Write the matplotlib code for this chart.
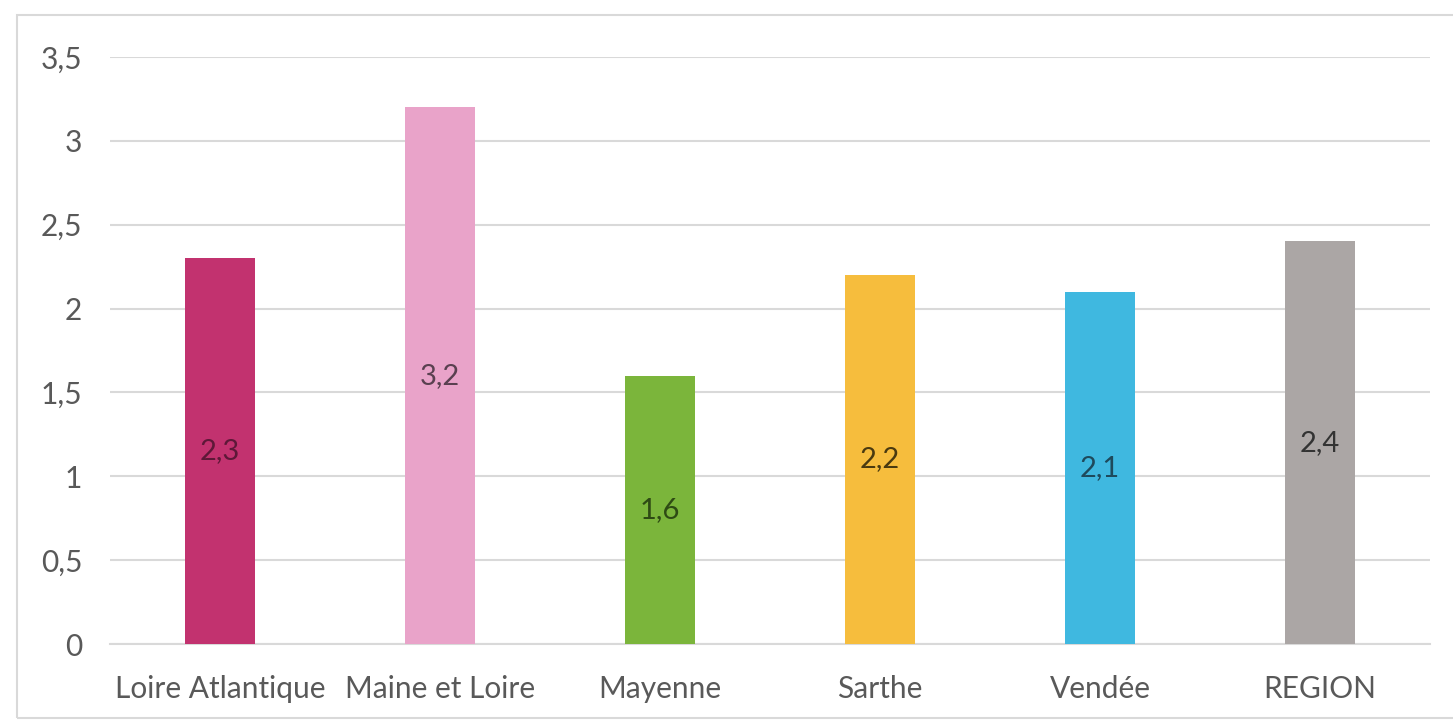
import matplotlib.pyplot as plt
from matplotlib.patches import Rectangle

categories = ['Loire Atlantique', 'Maine et Loire', 'Mayenne', 'Sarthe', 'Vendée', 'REGION']
values = [2.3, 3.2, 1.6, 2.2, 2.1, 2.4]
bar_colors = ['#C2326F', '#E9A3C9', '#7BB53B', '#F6BD3D', '#3FB8E0', '#ABA6A5']
label_colors = ['#5E1838', '#5A4050', '#2E4A14', '#4A3A10', '#1E4A5C', '#333333']
yticks = [0, 0.5, 1, 1.5, 2, 2.5, 3, 3.5]

plt.rcParams['font.family'] = ['Lato', 'DejaVu Sans']

fig = plt.figure(figsize=(14.53, 7.28), dpi=100)
ax = fig.add_axes([110 / 1453, 1 - 644 / 728, 1320 / 1453, (644 - 57) / 728])

x = list(range(len(categories)))
ax.bar(x, values, width=0.32, color=bar_colors, zorder=3)
for i, v in enumerate(values):
    ax.text(i, v / 2, f'{v:.1f}'.replace('.', ','), ha='center', va='center',
            fontsize=21, color=label_colors[i], zorder=4)

ax.set_xlim(-0.5, len(categories) - 0.5)
ax.set_ylim(0, 3.5)
ax.set_yticks(yticks)
ax.set_yticklabels([f'{t:g}'.replace('.', ',') for t in yticks])
ax.set_xticks(x)
ax.set_xticklabels(categories)
ax.tick_params(axis='both', length=0, labelsize=21.5, colors='#595959')
ax.tick_params(axis='y', pad=20)
ax.tick_params(axis='x', pad=22)
ax.grid(axis='y', color='#D9D9D9', linewidth=1.5, zorder=0)
for s in ['top', 'right', 'left']:
    ax.spines[s].set_visible(False)
ax.spines['bottom'].set_color('#D9D9D9')
ax.spines['bottom'].set_linewidth(1.5)

fig.patches.append(Rectangle((17 / 1453, 1 - 718 / 728), 1.1, (718 - 15) / 728,
                             transform=fig.transFigure, fill=False,
                             edgecolor='#D9D9D9', linewidth=1.5))

fig.savefig('out.png', dpi=100)
